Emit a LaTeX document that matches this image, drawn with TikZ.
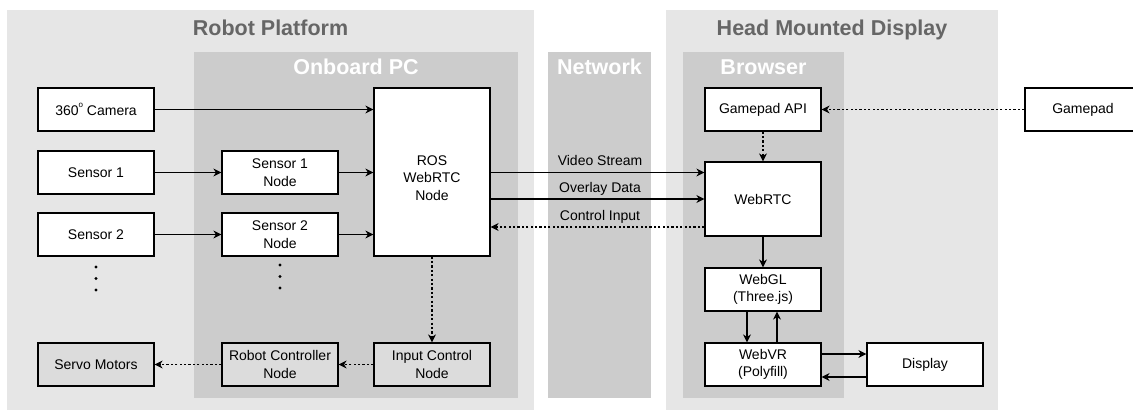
\documentclass[tikz,border=0pt]{standalone}
\usepackage{fontspec}
\setmainfont{Liberation Sans}
\usetikzlibrary{arrows.meta,calc}
\definecolor{outerbg}{HTML}{E6E6E6}
\definecolor{innerbg}{HTML}{CCCCCC}
\definecolor{titlegray}{HTML}{666666}
\definecolor{boxgray}{HTML}{DCDCDC}
\tikzset{
  area/.style={fill=#1, draw=none},
  bigtitle/.style={anchor=base, font=\fontsize{21.5}{24}\selectfont\bfseries, text=titlegray},
  subtitle/.style={anchor=base, font=\fontsize{21.5}{24}\selectfont\bfseries, text=white},
  box/.style={draw=black, line width=1.2pt, fill=white, minimum width=116pt, minimum height=43pt,
    inner sep=0pt, align=center, font=\fontsize{14}{17.5}\selectfont},
  graybox/.style={box, fill=boxgray},
  arr/.style={-{Stealth[length=8pt,width=8pt,inset=2.5pt]}, line width=1.2pt},
  dotarr/.style={arr, line width=1.1pt, dash pattern=on 2.2pt off 2.2pt},
  lbl/.style={anchor=base, yshift=6.5pt, font=\fontsize{14}{17}\selectfont},
  dot/.style={circle, fill=black, inner sep=0pt, minimum size=3.2pt}
}
\begin{document}
\begin{tikzpicture}[x=1pt, y=-1pt]
\useasboundingbox (0,0) rectangle (1133,411);

% grouping areas
\fill[outerbg] (7,10) rectangle (534,410);
\fill[innerbg] (194,52) rectangle (518,398);
\fill[innerbg] (548,52) rectangle (651,398);
\fill[outerbg] (666,10) rectangle (998,410);
\fill[innerbg] (683,52) rectangle (844,398);

\node[bigtitle] (tRobot) at (270.5,35.3) {Robot Platform};
\node[subtitle] (tPC) at (356,75) {Onboard PC};
\node[subtitle] (tNet) at (599.5,75) {Network};
\node[bigtitle] (tHMD) at (832,35.3) {Head Mounted Display};
\node[subtitle] (tBrowser) at (763.5,75) {Browser};

% robot side
\node[box] (cam) at (96,109.5) {360\raisebox{0.62em}{\fontsize{8}{8}\selectfont o} Camera};
\node[box] (s1) at (96,172.5) {Sensor 1};
\node[box] (s2) at (96,234.5) {Sensor 2};
\node[graybox] (servo) at (96,364.5) {Servo Motors};
\node[box] (s1n) at (280,172.5) {Sensor 1\\Node};
\node[box] (s2n) at (280,234.5) {Sensor 2\\Node};
\node[graybox] (rcn) at (280,364.5) {Robot Controller\\Node};
\node[box, minimum height=168pt] (ros) at (432,172) {};
\node[align=center, font=\fontsize{14}{17.5}\selectfont] (rosText) at ($(ros.center)+(0,6)$) {ROS\\WebRTC\\Node};
\node[graybox] (inp) at (432,364.5) {Input Control\\Node};

\node[dot] (d1) at (96,267) {};
\node[dot] (d2) at (96,278.5) {};
\node[dot] (d3) at (96,290) {};
\node[dot] (d4) at (280,265) {};
\node[dot] (d5) at (280,276.5) {};
\node[dot] (d6) at (280,288) {};

% display side
\node[box] (gapi) at (763,109.5) {Gamepad API};
\node[box, minimum height=74pt] (webrtc) at (763,199) {WebRTC};
\node[box] (webgl) at (763,289.5) {WebGL\\(Three.js)};
\node[box] (webvr) at (763,364.5) {WebVR\\(Polyfill)};
\node[box] (display) at (925,364.5) {Display};
\node[box] (gamepad) at (1083,109.5) {Gamepad};

% connectors on the robot side
\draw[arr] (cam.east) -- (cam.east -| ros.west);
\draw[arr] (s1.east) -- (s1n.west);
\draw[arr] (s2.east) -- (s2n.west);
\draw[arr] (s1n.east) -- (s1n.east -| ros.west);
\draw[arr] (s2n.east) -- (s2n.east -| ros.west);
\draw[dotarr] (ros.south) -- (inp.north);
\draw[dotarr] (inp.west) -- (rcn.east);
\draw[dotarr] (rcn.west) -- (servo.east);

% network links
\coordinate (vs) at (ros.east |- s1n.east);
\coordinate (ov) at (ros.east |- webrtc.west);
\coordinate (ci) at ($(webrtc.west)+(0,28)$);
\draw[arr] (vs) -- (vs -| webrtc.west) node[lbl, pos=0.512] {Video Stream};
\draw[arr] (ov) -- (webrtc.west) node[lbl, pos=0.512] {Overlay Data};
\draw[dotarr] (ci) -- (ci -| ros.east) node[lbl, pos=0.488] {Control Input};

% connectors on the display side
\draw[dotarr] (gamepad.west) -- (gapi.east);
\draw[dotarr] (gapi.south) -- (webrtc.north);
\draw[arr] (webrtc.south) -- (webgl.north);
\draw[arr] ([xshift=-16pt]webgl.south) -- ([xshift=-16pt]webvr.north);
\draw[arr] ([xshift=14pt]webvr.north) -- ([xshift=14pt]webgl.south);
\coordinate (vrOut) at ($(webvr.east)+(0,-10.5)$);
\coordinate (dpOut) at ($(display.west)+(0,12.5)$);
\draw[arr] (vrOut) -- (vrOut -| display.west);
\draw[arr] (dpOut) -- (dpOut -| webvr.east);
\end{tikzpicture}
\end{document}
